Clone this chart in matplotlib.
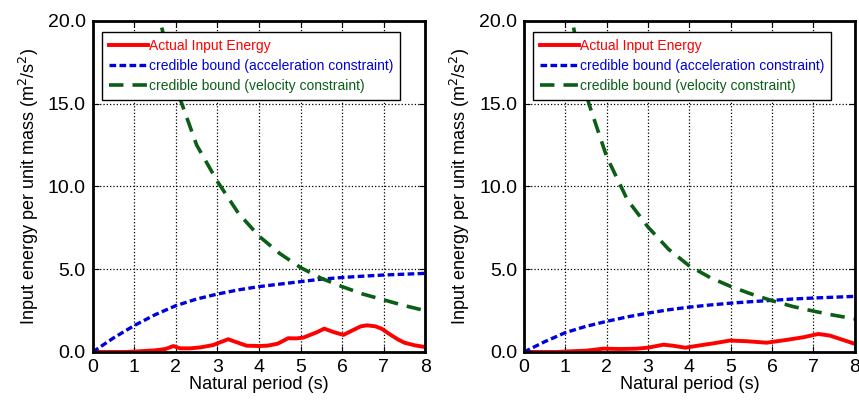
import matplotlib.pyplot as plt

plt.rcParams['font.family'] = ['Liberation Sans', 'DejaVu Sans']

# left panel
T_act_L = [0, 0.8, 1.1, 1.5, 1.75, 1.94, 2.1, 2.35, 2.6, 2.9, 3.1, 3.26, 3.45, 3.7, 4.0, 4.2, 4.45, 4.7,
           4.9, 5.07, 5.25, 5.4, 5.57, 5.8, 6.03, 6.27, 6.45, 6.6, 6.8, 6.95, 7.16, 7.35, 7.5, 7.75, 8.0]
E_act_L = [0.0, 0.0, 0.04, 0.1, 0.18, 0.36, 0.22, 0.22, 0.28, 0.42, 0.62, 0.77, 0.6, 0.38, 0.36, 0.38, 0.5, 0.83,
           0.82, 0.87, 1.05, 1.2, 1.41, 1.2, 1.03, 1.33, 1.55, 1.61, 1.55, 1.41, 1.05, 0.75, 0.56, 0.4, 0.3]
T_acc = [0, 0.5, 1, 1.5, 2, 2.5, 3, 3.5, 4, 4.5, 5, 5.5, 6, 6.5, 7, 7.5, 8]
E_acc_L = [0.0, 0.85, 1.6, 2.25, 2.8, 3.2, 3.5, 3.75, 3.95, 4.1, 4.25, 4.4, 4.5, 4.58, 4.65, 4.7, 4.75]
T_vel_L = [1.66, 2.0, 2.5, 3, 3.5, 4, 4.5, 5, 5.5, 6, 6.5, 7, 7.5, 8]
E_vel_L = [19.6, 16.0, 12.5, 10.3, 8.4, 7.0, 5.95, 5.1, 4.45, 3.95, 3.5, 3.15, 2.8, 2.5]

# right panel
T_act_R = [0, 0.8, 1.1, 1.5, 1.92, 2.32, 2.73, 3.0, 3.37, 3.6, 3.9, 4.26, 4.58, 4.98, 5.39, 5.87, 6.35,
           6.76, 7.12, 7.4, 7.97]
E_act_R = [0.0, 0.0, 0.04, 0.08, 0.2, 0.18, 0.2, 0.26, 0.44, 0.38, 0.26, 0.4, 0.52, 0.69, 0.65, 0.56, 0.73,
           0.89, 1.09, 0.99, 0.52]
E_acc_R = [0.0, 0.62, 1.17, 1.55, 1.85, 2.12, 2.35, 2.55, 2.71, 2.84, 2.95, 3.04, 3.12, 3.2, 3.26, 3.31, 3.36]
T_vel_R = [1.2, 1.4, 1.57, 2.0, 2.5, 3, 3.5, 4, 4.5, 5, 5.5, 6, 6.5, 7, 7.5, 8]
E_vel_R = [19.6, 16.8, 15.0, 11.8, 9.2, 7.55, 6.2, 5.2, 4.5, 3.96, 3.5, 3.1, 2.75, 2.47, 2.22, 2.0]

x_ticks = [0, 1, 2, 3, 4, 5, 6, 7, 8]
y_ticks = [0, 5, 10, 15, 20]
y_ticklabels = ['0.0', '5.0', '10.0', '15.0', '20.0']

fig = plt.figure(figsize=(8.59, 4.03), dpi=100)
ax1 = fig.add_axes([0.108, 0.1266, 0.387, 0.8214])
ax2 = fig.add_axes([0.610, 0.1266, 0.385, 0.8214])

panels = [(ax1, T_act_L, E_act_L, E_acc_L, T_vel_L, E_vel_L),
          (ax2, T_act_R, E_act_R, E_acc_R, T_vel_R, E_vel_R)]

for ax, ta, ea, eacc, tv, ev in panels:
    ax.plot(ta, ea, '-', c='#ff0000', lw=2.8, label='Actual Input Energy')
    ax.plot(T_acc, eacc, '--', c='#0000dd', lw=2.4, dashes=(2, 1), label='credible bound (acceleration constraint)')
    ax.plot(tv, ev, '--', c='#0b5e16', lw=2.6, dashes=(4, 2.5), label='credible bound (velocity constraint)')
    ax.set_xlim(0, 8)
    ax.set_ylim(0, 20)
    ax.set_xticks(x_ticks)
    ax.set_yticks(y_ticks)
    ax.set_yticklabels(y_ticklabels)
    ax.grid(True, linestyle=':', color='black', lw=0.9)
    ax.tick_params(direction='in', top=True, right=True, labelsize=14, length=4, pad=5)
    for s in ax.spines.values():
        s.set_linewidth(2)
    ax.set_xlabel('Natural period (s)', fontsize=13, labelpad=0)
    ax.set_ylabel('Input energy per unit mass (m$^2$/s$^2$)', fontsize=13, labelpad=5)
    leg = ax.legend(loc='upper left', bbox_to_anchor=(0.027, 0.967), fontsize=10, frameon=True,
                    fancybox=False, edgecolor='black', framealpha=1, handlelength=2.8,
                    handletextpad=0.1, borderpad=0.5, labelspacing=0.45, borderaxespad=0)
    leg.get_frame().set_linewidth(1.0)
    for txt, line in zip(leg.get_texts(), leg.get_lines()):
        txt.set_color(line.get_color())

fig.savefig('out.png', dpi=100)
